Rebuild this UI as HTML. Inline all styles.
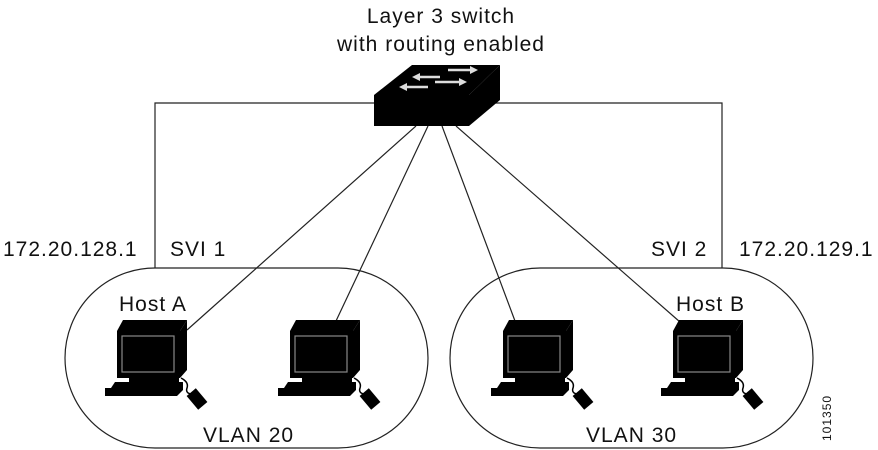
<!DOCTYPE html>
<html><head><style>
html,body{margin:0;padding:0;background:#fff;}
svg{display:block;}
text{font-family:"Liberation Sans",sans-serif;fill:#111;letter-spacing:1px;}
</style></head><body>
<svg width="878" height="450" viewBox="0 0 878 450" xmlns="http://www.w3.org/2000/svg">
<defs>
<g id="pc">
  <polygon points="0,11 6,0 70,0 63,11" fill="#000"/>
  <polygon points="63,11 70,0 70,50 63,58" fill="#000"/>
  <rect x="0" y="11" width="63" height="47" fill="#000"/>
  <rect x="5" y="16" width="52" height="36" fill="none" stroke="#888" stroke-width="1.2"/>
  <rect x="12" y="58" width="50" height="4" fill="#000"/>
  <polygon points="-6,68 -2,62 66,62 62,68" fill="#000"/>
  <rect x="-12" y="68" width="72" height="8" fill="#000"/>
  <polygon points="60,68 66,62 66,70 60,76" fill="#000"/>
  <path d="M64,58 Q72,62 70,68 Q68,74 76,74" fill="none" stroke="#000" stroke-width="1.5"/>
  <rect x="74" y="70" width="12" height="18" fill="#000" transform="rotate(-40 80 79)"/>
</g>
</defs>
<text x="441" y="23" font-size="21" text-anchor="middle">Layer 3 switch</text>
<text x="441" y="51" font-size="21" text-anchor="middle">with routing enabled</text>
<polyline points="374,103 155,103 155,268" fill="none" stroke="#222" stroke-width="1.2"/>
<polyline points="469,103 722,103 722,268" fill="none" stroke="#222" stroke-width="1.2"/>
<line x1="416" y1="126" x2="187" y2="330" stroke="#222" stroke-width="1.2"/>
<line x1="428" y1="126" x2="336" y2="321" stroke="#222" stroke-width="1.2"/>
<line x1="442" y1="126" x2="515" y2="321" stroke="#222" stroke-width="1.2"/>
<line x1="456" y1="126" x2="680" y2="322" stroke="#222" stroke-width="1.2"/>
<polygon points="374,95 412,65 500,65 469,95" fill="#000"/>
<polygon points="469,95 500,65 500,100 469,126" fill="#000"/>
<rect x="374" y="95" width="95" height="31" fill="#000"/>
<g stroke="#ddd" stroke-width="2.5" fill="#ddd">
<line x1="448" y1="70" x2="474" y2="70"/><polygon points="478,70 470,66 470,74" stroke="none"/>
<line x1="416" y1="77" x2="440" y2="77"/><polygon points="412,77 420,73 420,81" stroke="none"/>
<line x1="435" y1="82" x2="462" y2="82"/><polygon points="467,82 459,78 459,86" stroke="none"/>
<line x1="404" y1="87" x2="428" y2="87"/><polygon points="399,87 407,83 407,91" stroke="none"/>
</g>
<text x="3" y="256" font-size="21">172.20.128.1</text>
<text x="170" y="256" font-size="21">SVI 1</text>
<text x="651" y="256" font-size="21">SVI 2</text>
<text x="739" y="256" font-size="21">172.20.129.1</text>
<rect x="65" y="268" width="363" height="180" rx="90" ry="90" fill="none" stroke="#222" stroke-width="1.2"/>
<rect x="450" y="268" width="363" height="180" rx="90" ry="90" fill="none" stroke="#222" stroke-width="1.2"/>
<text x="119" y="311" font-size="21">Host A</text>
<text x="676" y="311" font-size="21">Host B</text>
<text x="203" y="442" font-size="21">VLAN 20</text>
<text x="586" y="442" font-size="21">VLAN 30</text>
<use href="#pc" transform="translate(117,320)"/>
<use href="#pc" transform="translate(290,320)"/>
<use href="#pc" transform="translate(503,320)"/>
<use href="#pc" transform="translate(673,320)"/>
<text x="0" y="0" font-size="12" transform="translate(831,441) rotate(-90)">101350</text>
</svg>
</body></html>
